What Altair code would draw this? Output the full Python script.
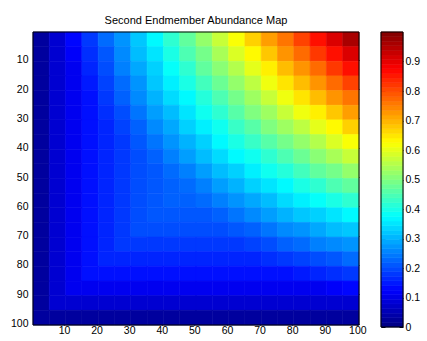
import altair as alt
import pandas as pd

title_text = "Second Endmember Abundance Map"
x_ticks = [10, 20, 30, 40, 50, 60, 70, 80, 90, 100]
y_ticks = [10, 20, 30, 40, 50, 60, 70, 80, 90, 100]
cbar_ticks = [0, 0.1, 0.2, 0.3, 0.4, 0.5, 0.6, 0.7, 0.8, 0.9]
block = 5  # each value below covers a 5x5 block of image pixels

# abundance, block rows top (rows 1-5) to bottom (rows 96-100),
# block columns left (cols 1-5) to right (cols 96-100)
r001 = [0.03, 0.08, 0.13, 0.18, 0.23, 0.27, 0.32, 0.37, 0.42, 0.47, 0.52, 0.57, 0.62, 0.67, 0.72, 0.76, 0.81, 0.86, 0.91, 0.96]
r006 = [0.03, 0.08, 0.12, 0.17, 0.21, 0.26, 0.31, 0.35, 0.40, 0.45, 0.49, 0.54, 0.59, 0.63, 0.68, 0.73, 0.77, 0.82, 0.86, 0.91]
r011 = [0.03, 0.08, 0.11, 0.16, 0.20, 0.25, 0.29, 0.33, 0.38, 0.42, 0.47, 0.51, 0.55, 0.60, 0.64, 0.69, 0.73, 0.77, 0.82, 0.86]
r016 = [0.03, 0.08, 0.11, 0.15, 0.19, 0.23, 0.27, 0.32, 0.36, 0.40, 0.44, 0.48, 0.52, 0.56, 0.61, 0.65, 0.69, 0.73, 0.77, 0.81]
r021 = [0.03, 0.08, 0.11, 0.14, 0.18, 0.22, 0.26, 0.30, 0.34, 0.37, 0.41, 0.45, 0.49, 0.53, 0.57, 0.61, 0.65, 0.69, 0.73, 0.76]
r026 = [0.03, 0.08, 0.11, 0.14, 0.17, 0.20, 0.24, 0.28, 0.31, 0.35, 0.39, 0.42, 0.46, 0.50, 0.53, 0.57, 0.61, 0.64, 0.68, 0.72]
r031 = [0.03, 0.08, 0.11, 0.14, 0.16, 0.19, 0.22, 0.26, 0.29, 0.33, 0.36, 0.39, 0.43, 0.46, 0.50, 0.53, 0.56, 0.60, 0.63, 0.67]
r036 = [0.03, 0.08, 0.11, 0.14, 0.16, 0.18, 0.21, 0.24, 0.27, 0.30, 0.33, 0.37, 0.40, 0.43, 0.46, 0.49, 0.52, 0.55, 0.59, 0.62]
r041 = [0.03, 0.08, 0.11, 0.14, 0.16, 0.18, 0.20, 0.22, 0.25, 0.28, 0.31, 0.34, 0.37, 0.39, 0.42, 0.45, 0.48, 0.51, 0.54, 0.57]
r046 = [0.03, 0.08, 0.11, 0.14, 0.16, 0.18, 0.20, 0.21, 0.23, 0.25, 0.28, 0.31, 0.33, 0.36, 0.39, 0.41, 0.44, 0.47, 0.49, 0.52]
r051 = [0.03, 0.08, 0.11, 0.14, 0.16, 0.18, 0.20, 0.21, 0.22, 0.23, 0.25, 0.28, 0.30, 0.33, 0.35, 0.37, 0.40, 0.42, 0.45, 0.47]
r056 = [0.03, 0.08, 0.11, 0.14, 0.16, 0.18, 0.20, 0.21, 0.22, 0.22, 0.23, 0.25, 0.27, 0.29, 0.31, 0.34, 0.36, 0.38, 0.40, 0.42]
r061 = [0.03, 0.08, 0.11, 0.14, 0.16, 0.18, 0.20, 0.21, 0.21, 0.21, 0.21, 0.22, 0.24, 0.26, 0.28, 0.30, 0.32, 0.33, 0.35, 0.37]
r066 = [0.03, 0.08, 0.11, 0.14, 0.16, 0.18, 0.20, 0.20, 0.20, 0.20, 0.20, 0.20, 0.21, 0.22, 0.24, 0.26, 0.27, 0.29, 0.31, 0.32]
r071 = [0.03, 0.08, 0.11, 0.14, 0.16, 0.18, 0.18, 0.18, 0.18, 0.18, 0.18, 0.18, 0.18, 0.19, 0.20, 0.22, 0.23, 0.25, 0.26, 0.27]
r076 = [0.03, 0.08, 0.11, 0.14, 0.16, 0.16, 0.16, 0.16, 0.16, 0.16, 0.16, 0.16, 0.16, 0.16, 0.17, 0.18, 0.19, 0.20, 0.21, 0.23]
r081 = [0.03, 0.08, 0.11, 0.14, 0.14, 0.14, 0.14, 0.14, 0.14, 0.14, 0.14, 0.14, 0.14, 0.14, 0.14, 0.14, 0.15, 0.16, 0.17, 0.18]
r086 = [0.03, 0.08, 0.11, 0.11, 0.11, 0.11, 0.11, 0.11, 0.11, 0.11, 0.11, 0.11, 0.11, 0.11, 0.11, 0.11, 0.11, 0.11, 0.12, 0.13]
r091 = [0.03, 0.08, 0.08, 0.08, 0.08, 0.08, 0.08, 0.08, 0.08, 0.08, 0.08, 0.08, 0.08, 0.08, 0.08, 0.08, 0.08, 0.08, 0.08, 0.08]
r096 = [0.03, 0.03, 0.03, 0.03, 0.03, 0.03, 0.03, 0.03, 0.03, 0.03, 0.03, 0.03, 0.03, 0.03, 0.03, 0.03, 0.03, 0.03, 0.03, 0.03]

block_rows = [r001, r006, r011, r016, r021, r026, r031, r036, r041, r046,
              r051, r056, r061, r066, r071, r076, r081, r086, r091, r096]

recs = []
for j, row in enumerate(block_rows):
    for i, val in enumerate(row):
        recs.append({
            "c0": block * i + 0.5, "c1": block * (i + 1) + 0.5,
            "r0": block * j + 0.5, "r1": block * (j + 1) + 0.5,
            "v": val,
        })
df = pd.DataFrame(recs)

# jet colormap
jet_stops = [0, 0.125, 0.375, 0.625, 0.875, 1]
jet_colors = ["#000080", "#0000ff", "#00ffff", "#ffff00", "#ff0000", "#800000"]
cscale = alt.Scale(domain=jet_stops, range=jet_colors, interpolate="rgb")

FONT = "Liberation Sans"
LBL = 10.5

xs = alt.Scale(domain=[0.5, 100.5], nice=False, zero=False)
ys = alt.Scale(domain=[0.5, 100.5], nice=False, zero=False, reverse=True)

heat = alt.Chart(df).mark_rect(strokeWidth=0.6).encode(
    x=alt.X("c0:Q", scale=xs, axis=alt.Axis(values=x_ticks, orient="bottom", offset=-4, tickSize=4,
                                             domain=False, grid=False, labelPadding=0, title=None,
                                             labelFontSize=LBL, labelFont=FONT, labelColor="black",
                                             tickColor="black", labelFlush=False)),
    x2="c1:Q",
    y=alt.Y("r0:Q", scale=ys, axis=alt.Axis(values=y_ticks, orient="left", offset=-4, tickSize=4,
                                             domain=False, grid=False, labelPadding=5, title=None,
                                             labelFontSize=LBL, labelFont=FONT, labelColor="black",
                                             tickColor="black", minExtent=31, maxExtent=31)),
    y2="r1:Q",
    fill=alt.Fill("v:Q", scale=cscale, legend=None),
    stroke=alt.Stroke("v:Q", scale=cscale, legend=None),
)

frame_df = pd.DataFrame({"c0": [0.5], "c1": [100.5], "r0": [0.5], "r1": [100.5]})
frame = alt.Chart(frame_df).mark_rect(filled=False, color="black", strokeWidth=1).encode(
    x=alt.X("c0:Q", scale=xs, axis=alt.Axis(values=x_ticks, orient="top", offset=-4, tickSize=4,
                                             labels=False, domain=False, grid=False, title=None,
                                             tickColor="black", minExtent=0, maxExtent=0)),
    x2="c1:Q",
    y=alt.Y("r0:Q", scale=ys, axis=alt.Axis(values=y_ticks, orient="right", offset=-4, tickSize=4,
                                             labels=False, domain=False, grid=False, title=None,
                                             tickColor="black", minExtent=0, maxExtent=0)),
    y2="r1:Q",
)

title_params = dict(fontSize=11, font=FONT, fontWeight="normal", color="black",
                    offset=-3, baseline="alphabetic", anchor="middle")

heatmap = alt.layer(heat, frame).resolve_axis(x="independent", y="independent").properties(
    width=326, height=293, title=alt.TitleParams(text=title_text, **title_params)
)

# colorbar (64 colour levels of the colormap)
levels = list(range(64))
cb_df = pd.DataFrame({
    "lo": [k / 64 for k in levels],
    "hi": [(k + 1) / 64 for k in levels],
    "mid": [(k + 0.5) / 64 for k in levels],
    "x0": [0.0 for k in levels],
    "x1": [1.0 for k in levels],
})
cxs = alt.Scale(domain=[0, 1], nice=False, zero=False)
cys = alt.Scale(domain=[0, 1], nice=False, zero=False)

cbar = alt.Chart(cb_df).mark_rect(strokeWidth=0.6).encode(
    x=alt.X("x0:Q", scale=cxs, axis=None),
    x2="x1:Q",
    y=alt.Y("lo:Q", scale=cys, axis=alt.Axis(values=cbar_ticks, orient="right", offset=-4, tickSize=4,
                                              domain=False, grid=False, labelPadding=2, title=None,
                                              format=".1~f", labelFontSize=LBL, labelFont=FONT,
                                              labelColor="black", tickColor="black", labelFlush=False)),
    y2="hi:Q",
    fill=alt.Fill("mid:Q", scale=cscale, legend=None),
    stroke=alt.Stroke("mid:Q", scale=cscale, legend=None),
)
cframe_df = pd.DataFrame({"x0": [0.0], "x1": [1.0], "lo": [0.0], "hi": [1.0]})
cframe = alt.Chart(cframe_df).mark_rect(filled=False, color="black", strokeWidth=1).encode(
    x=alt.X("x0:Q", scale=cxs, axis=None),
    x2="x1:Q",
    y=alt.Y("lo:Q", scale=cys, axis=alt.Axis(values=cbar_ticks, orient="left", offset=-4, tickSize=4,
                                              labels=False, domain=False, grid=False, title=None,
                                              tickColor="black", minExtent=0, maxExtent=0)),
    y2="hi:Q",
)
colorbar = alt.layer(cbar, cframe).resolve_axis(y="independent").properties(
    width=22, height=295, title=alt.TitleParams(text=" ", **title_params)
)

chart = alt.hconcat(heatmap, colorbar, spacing=13).properties(
    padding={"left": 5, "top": 14, "right": 3, "bottom": 2},
    background="white",
).configure_view(strokeWidth=0).configure(font=FONT)

chart.save("out.html", embed_options={"renderer": "svg", "actions": False})
